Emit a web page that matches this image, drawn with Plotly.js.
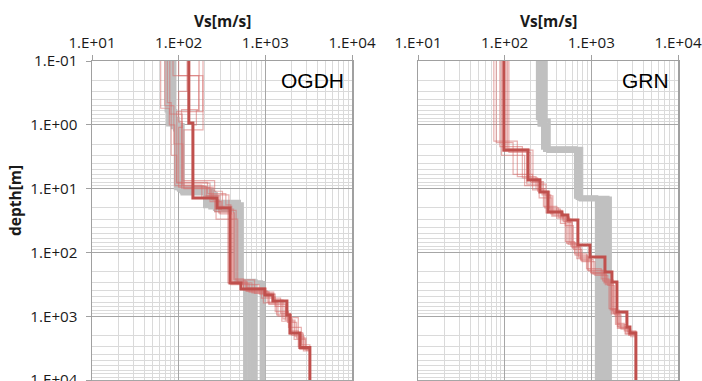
<!DOCTYPE html>
<html>
<head>
<meta charset="utf-8">
<script src="https://cdn.plot.ly/plotly-3.0.1.min.js"></script>
<style>html,body{margin:0;padding:0;background:#fff;overflow:hidden;}#chart{width:702px;height:396px;}</style>
</head>
<body>
<div id="chart"></div>
<script>
// ---- tick labels ----
const xTickVals = [10, 100, 1000, 10000];
const xTickText = ['1.E+01', '1.E+02', '1.E+03', '1.E+04'];
const yTickVals = [0.1, 1, 10, 100, 1000, 10000];
const yTickText = ['1.E-01', '1.E+00', '1.E+01', '1.E+02', '1.E+03', '1.E+04'];
const panelNames = ['OGDH', 'GRN'];

// ---- OGDH: gray profiles (layer top depth [m], Vs [m/s]) ----
const ogdhGrayDepth = [
  [0.1, 1.0, 10, 17, 280, 10000],
  [0.1, 0.9, 10.5, 20, 285, 10000],
  [0.1, 1.1, 11, 16, 290, 10000],
  [0.1, 1.0, 12, 22, 275, 10000],
  [0.1, 0.8, 10, 18, 290, 10000],
  [0.1, 1.2, 11.5, 21, 300, 10000],
  [0.1, 0.6, 9.8, 19, 285, 10000],
  [0.1, 1.0, 10.8, 17.5, 280, 10000]
];
const ogdhGrayVs = [
  [75, 95, 210, 460, 600, 600],
  [80, 100, 230, 480, 650, 650],
  [85, 105, 250, 500, 700, 700],
  [88, 110, 270, 520, 750, 750],
  [78, 98, 220, 490, 900, 900],
  [90, 108, 260, 530, 960, 960],
  [72, 92, 200, 450, 580, 580],
  [82, 112, 240, 540, 780, 780]
];
// ---- OGDH: light red profiles ----
const ogdhLightDepth = [
  [0.1, 0.55, 1.0, 9.0, 13, 25, 290, 400, 600, 1000, 1900, 3200, 10000],
  [0.1, 0.17, 0.62, 8.0, 12, 18, 320, 450, 700, 1150, 2100, 3300, 10000],
  [0.1, 0.68, 1.1, 9.5, 15, 24, 260, 380, 520, 900, 1700, 3000, 10000],
  [0.1, 0.5, 2.0, 7.5, 11, 20, 300, 430, 650, 1250, 2200, 3400, 10000],
  [0.1, 1.2, 10, 16, 22, 280, 360, 500, 850, 1500, 2800, 10000],
  [0.1, 0.3, 0.9, 8.8, 14, 30, 310, 420, 560, 1100, 1800, 3100, 10000],
  [0.1, 0.6, 1.0, 9.2, 13, 19, 295, 390, 620, 950, 2000, 3300, 10000],
  [0.1, 0.45, 3, 8.2, 12.5, 21, 270, 440, 580, 1200, 2300, 3200, 10000],
  [0.1, 0.17, 0.58, 9.8, 15, 23, 300, 410, 640, 1050, 1900, 3500, 10000]
];
const ogdhLightVs = [
  [62, 78, 90, 200, 300, 420, 620, 1050, 1400, 1900, 2600, 3266, 3266],
  [86, 190, 95, 215, 350, 400, 850, 1300, 1700, 2200, 2800, 3266, 3266],
  [79, 110, 100, 250, 290, 440, 560, 900, 1500, 1950, 2400, 3266, 3266],
  [69, 88, 112, 260, 320, 370, 700, 1100, 1800, 2300, 2950, 3266, 3266],
  [191, 115, 230, 310, 460, 600, 1000, 1300, 1850, 2600, 3266, 3266],
  [125, 100, 110, 185, 270, 480, 650, 1250, 1600, 2050, 2700, 3266, 3266],
  [172, 160, 145, 210, 290, 410, 560, 950, 1350, 2000, 2500, 3266, 3266],
  [74, 82, 95, 230, 380, 430, 750, 1200, 1550, 2150, 2900, 3266, 3266],
  [100, 170, 108, 240, 260, 395, 600, 1100, 1700, 2400, 2750, 3266, 3266]
];
// ---- OGDH: main (dark red) profile ----
const ogdhMainDepth = [0.1, 0.94, 14.0, 20.1, 302, 375, 466, 578, 957, 1834, 3100, 10000];
const ogdhMainVs    = [131, 146, 277, 391, 523, 989, 1224, 1775, 1923, 2506, 3266, 3266];

// ---- GRN: gray profiles ----
const grnGrayDepth = [
  [0.1, 0.8, 2.3, 13.5, 10000],
  [0.1, 1.0, 2.5, 14, 10000],
  [0.1, 0.9, 2.4, 14.5, 10000],
  [0.1, 1.1, 2.6, 15, 10000],
  [0.1, 0.85, 2.35, 13.8, 10000],
  [0.1, 1.0, 2.5, 14.2, 10000]
];
const grnGrayVs = [
  [240, 275, 660, 1150, 1150],
  [255, 290, 700, 1250, 1250],
  [270, 300, 720, 1350, 1350],
  [285, 315, 750, 1450, 1450],
  [300, 325, 770, 1550, 1550],
  [250, 305, 690, 1650, 1650]
];
// ---- GRN: light red profiles ----
const grnLightDepth = [
  [0.1, 1.8, 6.5, 10, 20, 28, 70, 110, 190, 280, 800, 1400, 1900, 10000],
  [0.1, 2.7, 8, 12.5, 25, 33, 85, 130, 220, 310, 900, 1550, 2000, 10000],
  [0.1, 2.2, 6.8, 11, 21, 35, 72, 125, 210, 300, 780, 1350, 1750, 10000],
  [0.1, 2.5, 7.8, 12, 24, 30, 80, 115, 195, 270, 850, 1500, 1900, 10000],
  [0.1, 3.0, 9, 14, 27, 38, 90, 140, 230, 330, 950, 1600, 2100, 10000],
  [0.1, 1.9, 6, 10.5, 19, 29, 68, 105, 180, 260, 760, 1300, 1700, 10000],
  [0.1, 2.4, 7, 11.5, 22, 32, 75, 120, 205, 290, 870, 1450, 1850, 10000],
  [0.1, 2.6, 8.5, 13, 26, 34, 82, 135, 215, 320, 920, 1520, 1950, 10000]
];
const grnLightVs = [
  [75, 140, 230, 290, 420, 560, 650, 900, 1350, 1650, 2100, 2450, 3266, 3266],
  [112, 200, 270, 340, 480, 600, 750, 1050, 1500, 1800, 2000, 2700, 3266, 3266],
  [88, 160, 240, 330, 440, 520, 680, 1000, 1400, 1700, 1900, 2600, 3266, 3266],
  [104, 212, 280, 300, 470, 580, 720, 930, 1480, 1780, 2050, 2500, 3266, 3266],
  [92, 170, 250, 350, 500, 620, 780, 1100, 1550, 1850, 2200, 2850, 3266, 3266],
  [80, 125, 210, 280, 400, 500, 640, 880, 1300, 1600, 1950, 2400, 3266, 3266],
  [108, 190, 260, 320, 460, 540, 710, 980, 1420, 1750, 2000, 2600, 3266, 3266],
  [96, 180, 300, 360, 520, 600, 760, 1000, 1450, 1700, 2150, 2750, 3266, 3266]
];
// ---- GRN: main (dark red) profile ----
const grnMainDepth = [0.1, 2.48, 7.3, 11.3, 23.3, 26, 31, 76.5, 118, 203, 291, 859, 1476, 1834, 10000];
const grnMainVs    = [98, 186, 255, 316, 458, 537, 700, 964, 1436, 1729, 1974, 2574, 2789, 3266, 3266];

// ---- styles ----
const GRAY = '#c0c0c0';
const LIGHT = 'rgba(214,108,105,0.55)';
const DARK = '#c0504d';

function prof(vs, depth, ax, color, width) {
  return {
    type: 'scatter', mode: 'lines', x: vs, y: depth,
    xaxis: 'x' + ax, yaxis: 'y' + ax,
    line: {shape: 'vh', color: color, width: width},
    hoverinfo: 'skip', showlegend: false
  };
}

const traces = [];
ogdhGrayVs.forEach((v, i) => traces.push(prof(v, ogdhGrayDepth[i], '', GRAY, 3.5)));
ogdhLightVs.forEach((v, i) => traces.push(prof(v, ogdhLightDepth[i], '', LIGHT, 1.2)));
traces.push(prof(ogdhMainVs, ogdhMainDepth, '', DARK, 3));
grnGrayVs.forEach((v, i) => traces.push(prof(v, grnGrayDepth[i], '2', GRAY, 3.5)));
grnLightVs.forEach((v, i) => traces.push(prof(v, grnLightDepth[i], '2', LIGHT, 1.2)));
traces.push(prof(grnMainVs, grnMainDepth, '2', DARK, 3));

const tickFont = {family: 'Open Sans, sans-serif', size: 15.2, color: '#1a1a1a'};
const lineCol = '#a0a0a0';

// page geometry: plot top at 61 px, 1.E+04 at 380 px, plot area continues below the window
const W = 702, H = 396, T = 61, B = 10;
const plotH = H - T - B;                 // 325 px
const pxPerDecade = (380 - T) / 5;       // 63.8 px
const yBottom = 4 + (H - B - 380) / pxPerDecade;
const py = p => 1 - (p - T) / plotH;

function xAx(domain, anchor) {
  return {
    domain: domain, anchor: anchor, type: 'log', range: [1, 4], side: 'top',
    tickmode: 'array', tickvals: xTickVals, ticktext: xTickText,
    ticks: 'outside', ticklen: 5, tickcolor: lineCol, tickwidth: 1,
    ticklabeloverflow: 'allow',
    showline: true, linecolor: lineCol, linewidth: 1.5, mirror: true,
    showgrid: true, gridcolor: '#a6a6a6', gridwidth: 1,
    minor: {dtick: 'D1', showgrid: true, gridcolor: '#dadada', gridwidth: 1, ticks: ''},
    tickfont: tickFont, zeroline: false, automargin: false, fixedrange: true
  };
}
function yAx(anchor, labels) {
  return {
    domain: [0, 1], anchor: anchor, type: 'log', range: [yBottom, -1],
    tickmode: 'array', tickvals: yTickVals, ticktext: yTickText,
    showticklabels: labels,
    ticks: labels ? 'outside' : '', ticklen: 5, tickcolor: lineCol, tickwidth: 1,
    ticklabelstandoff: 5, ticklabeloverflow: 'allow',
    showline: true, linecolor: lineCol, linewidth: 1.5, mirror: true,
    showgrid: true, gridcolor: '#a6a6a6', gridwidth: 1,
    minor: {dtick: 'D1', showgrid: true, gridcolor: '#dadada', gridwidth: 1, ticks: ''},
    tickfont: tickFont, zeroline: false, automargin: false, fixedrange: true
  };
}

const layout = {
  width: W, height: H,
  margin: {l: 0, r: 0, t: T, b: B, pad: 0},
  paper_bgcolor: '#ffffff', plot_bgcolor: '#ffffff',
  showlegend: false,
  xaxis: xAx([92 / W, 352 / W], 'y'),
  yaxis: yAx('x', true),
  xaxis2: xAx([418 / W, 678 / W], 'y2'),
  yaxis2: yAx('x2', false),
  annotations: [
    {text: panelNames[0], xref: 'paper', yref: 'paper', x: 346 / W, y: py(80), xanchor: 'right', yanchor: 'middle',
     showarrow: false, font: {family: 'Liberation Sans, Arial, sans-serif', size: 21, color: '#000'}},
    {text: panelNames[1], xref: 'paper', yref: 'paper', x: 671 / W, y: py(80), xanchor: 'right', yanchor: 'middle',
     showarrow: false, font: {family: 'Liberation Sans, Arial, sans-serif', size: 21, color: '#000'}},
    {text: '<b>Vs[m/s]</b>', xref: 'paper', yref: 'paper', x: 222 / W, y: py(21), xanchor: 'center', yanchor: 'middle',
     showarrow: false, font: {family: 'Open Sans, sans-serif', size: 15.5, color: '#1a1a1a'}},
    {text: '<b>Vs[m/s]</b>', xref: 'paper', yref: 'paper', x: 548 / W, y: py(21), xanchor: 'center', yanchor: 'middle',
     showarrow: false, font: {family: 'Open Sans, sans-serif', size: 15.5, color: '#1a1a1a'}},
    {text: '<b>depth[m]</b>', xref: 'paper', yref: 'paper', x: 15 / W, y: py(201), xanchor: 'center', yanchor: 'middle',
     textangle: -90, showarrow: false, font: {family: 'Open Sans, sans-serif', size: 15.5, color: '#1a1a1a'}}
  ]
};

Plotly.newPlot('chart', traces, layout, {staticPlot: true, displayModeBar: false});
</script>
</body>
</html>
